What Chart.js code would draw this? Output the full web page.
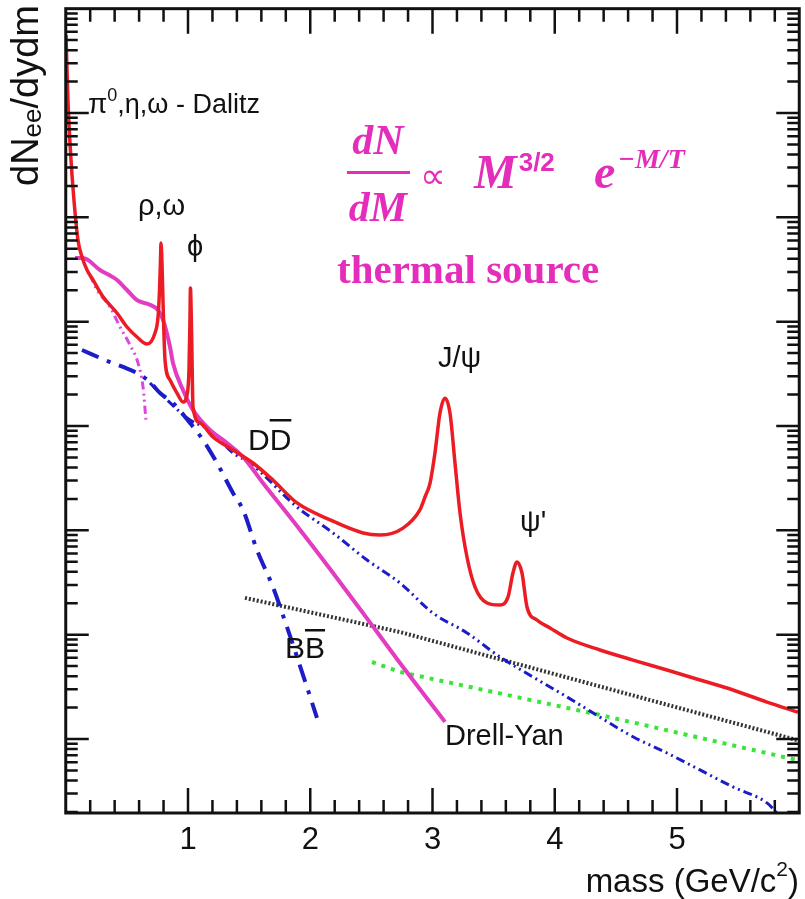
<!DOCTYPE html>
<html>
<head>
<meta charset="utf-8">
<script src="https://cdn.jsdelivr.net/npm/chart.js@4.4.0/dist/chart.umd.min.js"></script>
<style>
  html, body { margin: 0; padding: 0; background: #fff; }
  #wrap { width: 805px; height: 899px; }
</style>
</head>
<body>
<div id="wrap"><canvas id="chart" width="805" height="899"></canvas></div>
<script>
// values: mass in GeV/c^2, yield in dN/dydm (arbitrary decades)
const totalMass = [0.002, 0.018, 0.043, 0.067, 0.100, 0.133, 0.174, 0.223, 0.305, 0.419, 0.501, 0.583, 0.665, 0.730, 0.755, 0.767, 0.775, 0.779, 0.787, 0.796, 0.812, 0.853, 0.910, 0.959, 0.992, 1.008, 1.016, 1.020, 1.029, 1.041, 1.098, 1.204, 1.368, 1.532, 1.695, 1.892, 2.162, 2.432, 2.570, 2.759, 2.897, 2.939, 2.980, 3.020, 3.061, 3.102, 3.143, 3.184, 3.225, 3.282, 3.348, 3.446, 3.552, 3.618, 3.658, 3.691, 3.732, 3.773, 3.854, 3.961, 4.100, 4.370, 4.640, 4.918, 5.188, 5.458, 5.736, 5.990];
const totalYield = [5.6e6, 1.33e6, 3.55e5, 1.47e5, 6.07e4, 4.17e4, 3.13e4, 2.51e4, 1.73e4, 1.21e4, 8.89e3, 7.13e3, 6.11e3, 7.79e3, 1.11e4, 2.01e4, 3.9e4, 5.68e4, 3.73e4, 1.51e4, 4.29e3, 2.76e3, 2.07e3, 1.7e3, 1.98e3, 3.44e3, 1.04e4, 2.1e4, 8.32e3, 1.52e3, 1.07e3, 785, 589, 442, 303, 183, 126, 94.4, 90.2, 105, 157, 209, 284, 551, 1330, 1850, 1330, 442, 147, 55.5, 28.6, 20.1, 19.2, 23, 39, 49.7, 39, 18.4, 13.8, 11.6, 9.29, 7.13, 5.71, 4.58, 3.68, 2.95, 2.26, 1.81];

const thermalMass = [0.076, 0.141, 0.280, 0.419, 0.501, 0.583, 0.689, 0.755, 0.796, 0.853, 0.877, 0.959, 1.041, 1.180, 1.319, 1.450, 1.613, 1.892, 2.162, 2.432, 2.734, 3.102];
const thermalYield = [4.07e4, 4.07e4, 3.13e4, 2.51e4, 2.01e4, 1.61e4, 1.45e4, 1.29e4, 1.04e4, 5.72e3, 4.02e3, 2.21e3, 1.42e3, 916, 687, 505, 284, 110, 42.6, 16.1, 5.35, 1.46];

const dalitzMass = [0.198, 0.256, 0.362, 0.444, 0.526, 0.591, 0.632, 0.656];
const dalitzYield = [2.8e4, 2.01e4, 1.38e4, 8.89e3, 5.97e3, 4.02e3, 2.37e3, 1.14e3];

const charmMass = [0.133, 0.362, 0.468, 0.583, 0.689, 0.771, 0.877, 1.016, 1.123, 1.237, 1.368, 1.450, 1.564, 1.695, 1.810, 1.973, 2.055];
const charmYield = [5.35e3, 4.1e3, 3.68e3, 3.22e3, 2.64e3, 2.07e3, 1.66e3, 1.07e3, 734, 442, 228, 157, 64.9, 28.6, 11.8, 3.15, 1.59];

const bottomMass = [0.689, 0.828, 1.016, 1.180, 1.368, 1.507, 1.892, 2.186, 2.464, 2.734, 3.004, 3.282, 3.552, 3.822, 4.100, 4.370, 4.640, 4.918, 5.188, 5.458, 5.736, 5.818];
const bottomYield = [2.58e3, 1.78e3, 1.14e3, 916, 551, 442, 167, 94.4, 52, 31.3, 16.1, 10.4, 6.11, 3.93, 2.53, 1.62, 1.05, 0.734, 0.505, 0.347, 0.244, 0.195];

const drellYanMass = [1.466, 2.734, 5.981];
const drellYanYield = [22.5, 10.6, 0.977];

const greenMass = [2.505, 2.734, 4.370, 5.981];
const greenYield = [5.47, 4.39, 1.70, 0.629];

const xTickLabels = ['1', '2', '3', '4', '5'];
const xMin = 0, xMax = 6;
const yMin = 0.1953, yMax = 1e7;

function pairs(xs, ys) {
  return xs.map((m, i) => ({ x: m, y: ys[i] }));
}

// frame with inward ticks on all four sides, like ROOT draws it
const framePlugin = {
  id: 'frame',
  afterDatasetsDraw(chart) {
    const { ctx, chartArea: a, scales: { x, y } } = chart;
    ctx.save();
    ctx.strokeStyle = '#111';
    ctx.lineWidth = 2.5;
    ctx.beginPath();
    for (let i = 1; i < 30; i++) {
      const px = x.getPixelForValue(i / 5);
      const len = i % 5 === 0 ? 25 : 13;
      ctx.moveTo(px, a.bottom); ctx.lineTo(px, a.bottom - len);
      ctx.moveTo(px, a.top); ctx.lineTo(px, a.top + len);
    }
    for (let e = -1; e <= 7; e++) {
      for (let k = 1; k <= 9; k++) {
        const v = k * Math.pow(10, e);
        if (v < yMin || v >= yMax) continue;
        const py = y.getPixelForValue(v);
        const len = k === 1 ? 23 : 12;
        ctx.lineWidth = k === 1 ? 3 : 2.5;
        ctx.moveTo(a.left, py); ctx.lineTo(a.left + len, py);
        ctx.moveTo(a.right, py); ctx.lineTo(a.right - len, py);
      }
    }
    ctx.stroke();
    ctx.lineWidth = 3;
    ctx.strokeRect(a.left, a.top, a.right - a.left, a.bottom - a.top);
    ctx.restore();
  }
};

const textPlugin = {
  id: 'texts',
  afterDraw(chart) {
    const { ctx, scales: { x } } = chart;
    const sans = '"Liberation Sans", Arial, sans-serif';
    const serif = '"Liberation Serif", "Times New Roman", serif';
    ctx.save();
    ctx.fillStyle = '#111';
    ctx.textBaseline = 'alphabetic';

    // tick labels
    ctx.font = '31px ' + sans;
    ctx.textAlign = 'center';
    xTickLabels.forEach(t => ctx.fillText(t, x.getPixelForValue(Number(t)), 849));

    // x title, right aligned
    ctx.textAlign = 'left';
    const big = '33px ' + sans, sup = '21px ' + sans;
    ctx.font = big; const w1 = ctx.measureText('mass (GeV/c').width;
    ctx.font = sup; const w2 = ctx.measureText('2').width;
    ctx.font = big; const w3 = ctx.measureText(')').width;
    let sx = 799 - (w1 + w2 + w3);
    ctx.font = big; ctx.fillText('mass (GeV/c', sx, 892);
    ctx.font = sup; ctx.fillText('2', sx + w1, 876);
    ctx.font = big; ctx.fillText(')', sx + w1 + w2, 892);

    // y title, rotated
    ctx.save();
    ctx.translate(38, 186);
    ctx.rotate(-Math.PI / 2);
    ctx.font = '38px ' + sans;
    ctx.fillText('dN', 0, 0);
    let w = ctx.measureText('dN').width;
    ctx.font = '26px ' + sans;
    ctx.fillText('ee', w, 3);
    w += ctx.measureText('ee').width;
    ctx.font = '38px ' + sans;
    ctx.fillText('/dydm', w, 0);
    ctx.restore();

    // annotations
    ctx.font = '28px ' + sans;
    ctx.fillText('\u03c0', 88, 113);
    let ax = 88 + ctx.measureText('\u03c0').width;
    ctx.font = '18px ' + sans;
    ctx.fillText('0', ax, 101);
    ax += ctx.measureText('0').width;
    ctx.font = '27px ' + sans;
    ctx.fillText(',\u03b7,\u03c9 - Dalitz', ax, 113);
    ctx.font = '29px ' + sans;
    ctx.fillText('\u03c1,\u03c9', 138, 215);
    ctx.fillText('\u03d5', 187, 256);
    ctx.fillText('J/\u03c8', 438, 367);
    ctx.fillText('\u03c8\'', 520, 531);
    ctx.fillText('Drell-Yan', 445, 745);

    ctx.font = '30px ' + sans;
    const dW = ctx.measureText('D').width;
    ctx.fillText('DD', 248, 450);
    ctx.fillRect(248 + dW, 419, dW, 2.5);
    const bW = ctx.measureText('B').width;
    ctx.fillText('BB', 285, 658);
    ctx.fillRect(285 + bW, 629, bW, 2.5);

    // thermal formula
    ctx.fillStyle = '#e42dbb';
    ctx.font = 'italic bold 42px ' + serif;
    ctx.textAlign = 'center';
    ctx.fillText('dN', 378, 154);
    ctx.fillText('dM', 378, 221);
    ctx.fillRect(347, 171, 63, 3);
    ctx.textAlign = 'left';
    ctx.font = '36px ' + serif;
    ctx.fillText('\u221d', 420, 188);
    ctx.font = 'italic bold 48px ' + serif;
    ctx.fillText('M', 474, 188);
    const mW = ctx.measureText('M').width;
    ctx.font = 'bold 26px ' + sans;
    ctx.fillText('3/2', 474 + mW + 2, 171);
    ctx.font = 'italic bold 48px ' + serif;
    ctx.fillText('e', 594, 188);
    ctx.font = 'italic bold 28px ' + serif;
    ctx.fillText('\u2212M/T', 618, 168);
    ctx.font = 'bold 41px ' + serif;
    ctx.fillText('thermal source', 337, 283);
    ctx.restore();
  }
};

const ctx = document.getElementById('chart').getContext('2d');
new Chart(ctx, {
  type: 'line',
  data: {
    datasets: [
      {
        label: 'total',
        data: pairs(totalMass, totalYield),
        borderColor: '#ec1c24', borderWidth: 3.5,
        cubicInterpolationMode: 'monotone', order: 1
      },
      {
        label: 'thermal',
        data: pairs(thermalMass, thermalYield),
        borderColor: '#e33cc0', borderWidth: 4,
        cubicInterpolationMode: 'monotone', order: 2
      },
      {
        label: 'Dalitz',
        data: pairs(dalitzMass, dalitzYield),
        borderColor: '#df46e0', borderWidth: 3,
        borderDash: [8, 4, 2, 4, 2, 4],
        cubicInterpolationMode: 'monotone', order: 3
      },
      {
        label: 'charm',
        data: pairs(charmMass, charmYield),
        borderColor: '#1c1cc8', borderWidth: 4,
        borderDash: [18, 9, 4, 9],
        cubicInterpolationMode: 'monotone', order: 4
      },
      {
        label: 'bottom',
        data: pairs(bottomMass, bottomYield),
        borderColor: '#1c1cc8', borderWidth: 3,
        borderDash: [9, 4, 2, 4, 2, 4],
        cubicInterpolationMode: 'monotone', order: 5
      },
      {
        label: 'black',
        data: pairs(drellYanMass, drellYanYield),
        borderColor: '#333', borderWidth: 4,
        borderDash: [2, 2], tension: 0, order: 6
      },
      {
        label: 'green',
        data: pairs(greenMass, greenYield),
        borderColor: '#3de33d', borderWidth: 4,
        borderDash: [4, 6], tension: 0, order: 7
      }
    ]
  },
  options: {
    responsive: false,
    animation: false,
    events: [],
    layout: { padding: { left: 65.75, right: 5.75, top: 8.67, bottom: 86 } },
    elements: { point: { radius: 0 } },
    plugins: { legend: { display: false }, tooltip: { enabled: false } },
    scales: {
      x: { type: 'linear', min: xMin, max: xMax, display: false },
      y: { type: 'logarithmic', min: yMin, max: yMax, display: false }
    }
  },
  plugins: [framePlugin, textPlugin]
});
</script>
</body>
</html>
